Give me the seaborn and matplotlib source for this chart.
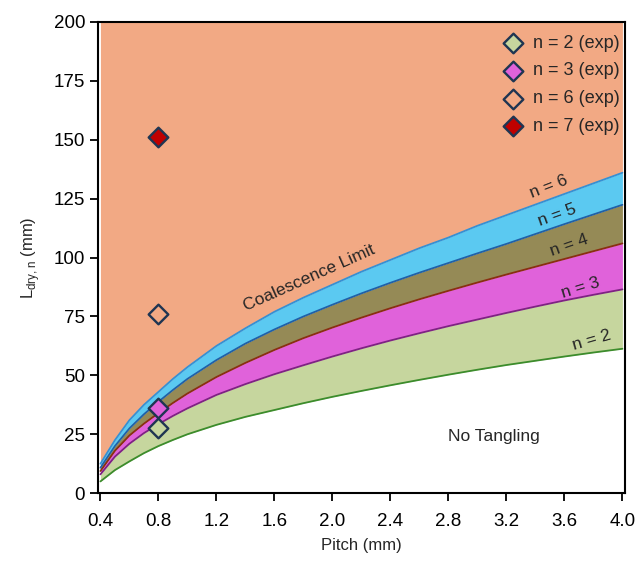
import numpy as np
import pandas as pd
import matplotlib
matplotlib.use("Agg")
import matplotlib.pyplot as plt
import seaborn as sns

# ---- data ----
pitch = [0.4, 0.5, 0.6, 0.7, 0.8, 0.9, 1.0, 1.2, 1.4, 1.6, 1.8, 2.0, 2.2, 2.4,
         2.6, 2.8, 3.0, 3.2, 3.4, 3.6, 3.8, 4.0]
n2 = [5.0, 9.8, 13.5, 17.0, 20.0, 22.6, 25.0, 29.0, 32.4, 35.3, 38.2, 40.9, 43.4, 45.8,
      48.1, 50.3, 52.4, 54.4, 56.2, 58.0, 59.7, 61.3]
n3 = [8.0, 15.5, 21.0, 25.5, 29.3, 32.8, 36.0, 41.7, 46.3, 50.5, 54.3, 58.0, 61.5, 64.8,
      67.9, 70.9, 73.7, 76.5, 79.2, 81.8, 84.2, 86.5]
n4 = [9.4, 18.0, 24.5, 29.5, 34.0, 38.3, 42.3, 49.3, 55.3, 60.8, 65.8, 70.3, 74.5, 78.5,
      82.3, 85.9, 89.4, 92.8, 96.1, 99.4, 102.7, 106.0]
n5 = [10.8, 20.0, 27.5, 33.5, 38.8, 43.8, 48.5, 56.5, 63.5, 69.5, 75.0, 80.0, 84.8, 89.3,
      93.6, 97.7, 101.8, 105.8, 110.0, 114.2, 118.3, 122.4]
n6 = [12.5, 22.5, 31.0, 37.5, 43.0, 48.5, 53.5, 62.5, 70.0, 77.0, 83.0, 88.5, 94.0, 99.0,
      104.0, 108.5, 113.5, 118.0, 122.5, 127.0, 131.5, 136.0]

exp_labels = ["n = 2 (exp)", "n = 3 (exp)", "n = 6 (exp)", "n = 7 (exp)"]
exp_x = [0.8, 0.8, 0.8, 0.8]
exp_y = [27.5, 36.0, 76.0, 151.0]

xticks = [0.4, 0.8, 1.2, 1.6, 2.0, 2.4, 2.8, 3.2, 3.6, 4.0]
yticks = [0, 25, 50, 75, 100, 125, 150, 175, 200]

# ---- style ----
sns.set_style("ticks")
plt.rcParams['font.family'] = ['Liberation Sans', 'DejaVu Sans']

c_orange = "#F2A984"
c_blue = "#5BC9F1"
c_olive = "#958A56"
c_mag = "#E062DA"
c_green = "#C6D69E"
edge = "#1F3552"

fig = plt.figure(figsize=(6.38, 5.63), dpi=100)
ax = fig.add_axes([0.154, 0.124, 0.825, 0.837])

x = np.array(pitch)
ax.fill_between(x, n6, 200, color=c_orange, lw=0, zorder=1)
ax.fill_between(x, n5, n6, color=c_blue, lw=0, zorder=1)
ax.fill_between(x, n4, n5, color=c_olive, lw=0, zorder=1)
ax.fill_between(x, n3, n4, color=c_mag, lw=0, zorder=1)
ax.fill_between(x, n2, n3, color=c_green, lw=0, zorder=1)

k = len(pitch)
lines = pd.DataFrame({"pitch": pitch * 5,
                      "L": n2 + n3 + n4 + n5 + n6,
                      "n": ["2"] * k + ["3"] * k + ["4"] * k + ["5"] * k + ["6"] * k})
line_cols = {"2": "#3C8C2C", "3": "#7E2382", "4": "#8A2E12", "5": "#2160A6", "6": "#3590D4"}
sns.lineplot(data=lines, x="pitch", y="L", hue="n", palette=line_cols, lw=1.3,
             legend=False, ax=ax, zorder=2, sort=False, estimator=None)

faces = [c_green, c_mag, c_orange, "#C00000"]
for lab, xx, yy, fc in zip(exp_labels, exp_x, exp_y, faces):
    sns.scatterplot(x=[xx], y=[yy], marker="D", s=100, color=fc, edgecolor=edge,
                    linewidth=1.7, label=lab, ax=ax, zorder=5)

# curve labels
fs = 12.5
ax.text(3.49, 130, "n = 6", fontsize=fs, rotation=21, ha="center", va="center", zorder=6)
ax.text(3.55, 118, "n = 5", fontsize=fs, rotation=19.5, ha="center", va="center", zorder=6)
ax.text(3.63, 105, "n = 4", fontsize=fs, rotation=19, ha="center", va="center", zorder=6)
ax.text(3.71, 87, "n = 3", fontsize=fs, rotation=17, ha="center", va="center", zorder=6)
ax.text(3.79, 65, "n = 2", fontsize=fs, rotation=16, ha="center", va="center", zorder=6)
ax.text(1.84, 91.5, "Coalescence Limit", fontsize=fs, rotation=24, ha="center", va="center", zorder=6)
ax.text(3.11, 24, "No Tangling", fontsize=fs, ha="center", va="center", zorder=6)

ax.set_xlim(0.385, 4.015)
ax.set_ylim(0, 200)
ax.set_xticks(xticks)
ax.set_xticklabels([f"{t:.1f}" for t in xticks])
ax.set_yticks(yticks)
ax.tick_params(axis="both", labelsize=13.5, direction="out", length=6, width=1.3, colors="black")
ax.tick_params(axis="x", pad=8)
ax.set_xlabel("Pitch (mm)", fontsize=12, labelpad=6)
ax.set_ylabel(r"L$_{\mathregular{dry,n}}$ (mm)", fontsize=12, labelpad=8)
for s in ax.spines.values():
    s.set_visible(True)
    s.set_color("black")
    s.set_linewidth(1.5)
    s.set_zorder(10)

leg = ax.legend(loc="upper right", bbox_to_anchor=(1.015, 1.0), frameon=False, fontsize=13,
                handletextpad=0.1, borderaxespad=0.4, labelspacing=0.6, borderpad=0.3,
                markerscale=1.0)

fig.savefig("out.png", dpi=100)
